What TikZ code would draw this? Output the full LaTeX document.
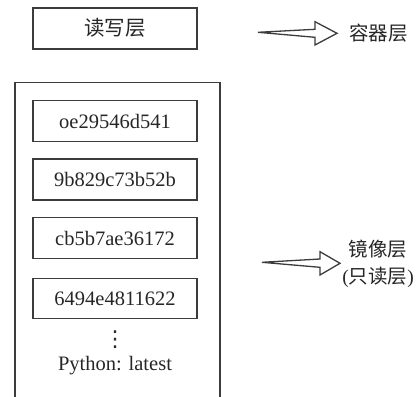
\documentclass[tikz,border=0pt]{standalone}
\usepackage{fontspec}
\setmainfont{Liberation Serif}
\newfontfamily\latinserif{Liberation Serif}
\newfontfamily\cjk{Noto Sans CJK SC}
\newfontfamily\symfont{DejaVu Sans}
\definecolor{linegray}{HTML}{3C3C3C}
\definecolor{textgray}{HTML}{262626}
\begin{document}
\begin{tikzpicture}[x=1pt,y=-1pt]
\tikzset{
  frame/.style={draw=linegray, line width=1.6pt},
  layerbox/.style={frame, minimum width=164pt, minimum height=41pt, inner sep=0pt,
    text=textgray, font=\latinserif\fontsize{20.5}{22}\selectfont},
  plaintext/.style={text=textgray, inner sep=0pt, font=\latinserif\fontsize{20.5}{22}\selectfont},
  sidelabel/.style={text=textgray, inner sep=0pt, align=center,
    font=\latinserif\fontsize{19.5}{27}\selectfont},
  hollowarrow/.style={draw=linegray, line width=1.3pt, fill=white, line join=miter}
}
\useasboundingbox (0,0) rectangle (419,396);
% outer image frame (open at the bottom)
\draw[frame] (15,400) -- (15,82.5) -- (220,82.5) -- (220,400);
% boxes
\node[layerbox] (rw) at (115,28.3) {\cjk 读写层};
\node[layerbox] (b1) at (115,121) {oe29546d541};
\node[layerbox] (b2) at (115,179.5) {9b829c73b52b};
\node[layerbox] (b3) at (115,238) {cb5b7ae36172};
\node[layerbox, minimum height=40pt] (b4) at (115,298.5) {6494e4811622};
\node[plaintext, font=\symfont\fontsize{22}{24}\selectfont] (dots) at (115,340) {⋮};
\node[plaintext] (py) at (115,366) {Python: latest};
% labels
\node[sidelabel] (c1) at (378.5,33) {\cjk 容器层};
\node[sidelabel] (c2) at (378,264) {{\cjk 镜像层}\\({\cjk 只读层})};
% hollow arrows
\coordinate (t1) at (258,33.3);
\coordinate (t2) at (262,263.3);
\draw[hollowarrow] (t1) ++(0,-1) -- ++(57,-3) -- ++(0,-7.6) -- ++(22,11.6) -- ++(-22,11.7)
  -- ++(0,-7.7) -- cycle;
\draw[hollowarrow] (t2) ++(0,-1) -- ++(58,-3.3) -- ++(0,-7.3) -- ++(20,11.6) -- ++(-20,11.7)
  -- ++(0,-7.7) -- cycle;
\end{tikzpicture}
\end{document}
